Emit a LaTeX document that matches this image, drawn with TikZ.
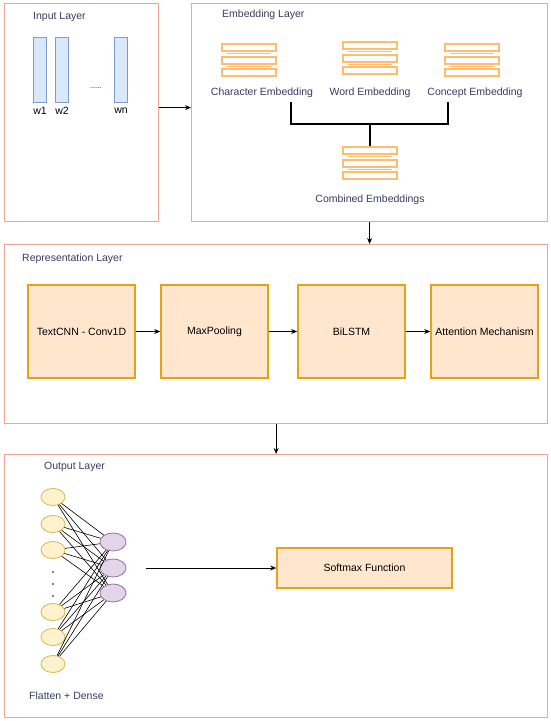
\documentclass[tikz,border=0pt]{standalone}
\usepackage{fontspec}
\setmainfont{Liberation Sans}
\usetikzlibrary{arrows.meta,shapes.geometric}
\definecolor{layerline}{HTML}{F2A394}
\definecolor{titletext}{HTML}{3A3A5E}
\definecolor{boxfill}{HTML}{FFE6CC}
\definecolor{boxline}{HTML}{E0A31A}
\definecolor{stackcol}{HTML}{FFBB6E}
\definecolor{barfill}{HTML}{DAE8FC}
\definecolor{barline}{HTML}{7C9CCF}
\definecolor{yelfill}{HTML}{FFF2CC}
\definecolor{yelline}{HTML}{D6B656}
\definecolor{purfill}{HTML}{E1D5E7}
\definecolor{purline}{HTML}{9673A6}
\tikzset{
  layer/.style={draw=layerline, line width=1.2pt, anchor=north west},
  title/.style={text=titletext, anchor=west, inner sep=0pt},
  lbl/.style={text=titletext, inner sep=0pt},
  stagebox/.style={draw=boxline, fill=boxfill, line width=1.6pt, minimum width=107, minimum height=93},
  wordbar/.style={draw=barline, fill=barfill, line width=0.8pt, minimum width=13, minimum height=65},
  flatnode/.style={ellipse, draw=yelline, fill=yelfill, line width=0.8pt, minimum width=24, minimum height=17, inner sep=0pt},
  densenode/.style={ellipse, draw=purline, fill=purfill, line width=0.8pt, minimum width=26, minimum height=18, inner sep=0pt},
  netline/.style={line width=0.6pt},
  embstack/.pic={
    \foreach \t in {-16,-3,9} \draw[draw=stackcol, fill=white, line width=1.2pt] (-27,\t) rectangle (27,\t+7);
    \foreach \l in {-7,6} \draw[draw=stackcol, line width=0.9pt] (-22,\l) -- (22,\l);
    \coordinate (-top) at (0,-17);
  }
}
\begin{document}
\begin{tikzpicture}[x=1pt,y=-1pt,font=\fontsize{10.5}{12}\selectfont,>={Stealth[length=6pt,width=5pt]}]
\useasboundingbox (0,0) rectangle (550,721);

%Input Layer
\node[layer, minimum width=154, minimum height=218] (inbox) at (4,3) {};
\node[title] (intitle) at (33,17) {Input Layer};
\node[wordbar] (bar1) at (39.5,69.5) {};
\node[wordbar] (bar2) at (62,69.5) {};
\node[wordbar] (barn) at (120.5,69.5) {};
\node[inner sep=0pt, font=\fontsize{7}{8}\selectfont] (bardots) at (96,88) {......};
\node[inner sep=0pt] (w1) at (40,111) {w1};
\node[inner sep=0pt] (w2) at (62,111) {w2};
\node[inner sep=0pt] (wn) at (121,111) {wn};

%Embedding Layer
\node[layer, minimum width=356, minimum height=218] (embbox) at (191,3) {};
\node[title] (embtitle) at (222,15) {Embedding Layer};
\pic (char) at (249,60) {embstack};
\pic (word) at (370,58) {embstack};
\pic (conc) at (472,60) {embstack};
\pic (comb) at (370,163) {embstack};
\node[lbl] (charlbl) at (262,93) {Character Embedding};
\node[lbl] (wordlbl) at (370,93) {Word Embedding};
\node[lbl] (conclbl) at (475,93) {Concept Embedding};
\node[lbl] (comblbl) at (370,200) {Combined Embeddings};
\coordinate (join) at (370,124);
\draw[line width=1.6pt] ([xshift=29pt,yshift=-4pt]charlbl.south) |- (join) -| ([xshift=-27pt,yshift=-4pt]conclbl.south);
\draw[line width=1.6pt] (join) -- (comb-top);

\draw[->, line width=0.8pt] ([yshift=5pt]inbox.east) -- ([yshift=5pt]embbox.west);

%Representation Layer
\node[layer, minimum width=543, minimum height=179] (repbox) at (4,244) {};
\node[title] (reptitle) at (22,259) {Representation Layer};
\node[stagebox] (cnn) at (81.5,331.5) {TextCNN - Conv1D};
\node[stagebox] (pool) at (214.5,331.5) {MaxPooling};
\node[stagebox] (lstm) at (351.5,331.5) {BiLSTM};
\node[stagebox] (attn) at (484.5,331.5) {Attention Mechanism};
\draw[->, line width=0.8pt] (cnn) -- (pool);
\draw[->, line width=0.8pt] (pool) -- (lstm);
\draw[->, line width=0.8pt] (lstm) -- (attn);

\draw[->, line width=0.8pt] (embbox.south) -- (embbox.south |- repbox.north);

%Output Layer
\node[layer, minimum width=543, minimum height=263] (outbox) at (4,454) {};
\node[title] (outtitle) at (44,467) {Output Layer};
\foreach \i/\y in {1/497,2/524,3/550,4/612,5/637,6/664}
  \node[flatnode] (y\i) at (53,\y) {};
\foreach \j/\y in {1/542,2/568,3/593}
  \node[densenode] (p\j) at (113,\y) {};
\foreach \i in {1,...,6}
  \foreach \j in {1,2,3}
    \draw[netline] (y\i) -- (p\j);
\foreach \y in {572,584,596}
  \fill (53,\y) circle (0.8);
\node[title] (flattitle) at (29,696) {Flatten + Dense};
\node[stagebox, minimum width=175, minimum height=40] (softmax) at (364.5,568) {Softmax Function};
\coordinate (netout) at (146,568);
\draw[->, line width=0.8pt] (netout) -- (softmax);

\draw[->, line width=0.8pt] (repbox.south) -- (outbox.north);

\end{tikzpicture}
\end{document}
